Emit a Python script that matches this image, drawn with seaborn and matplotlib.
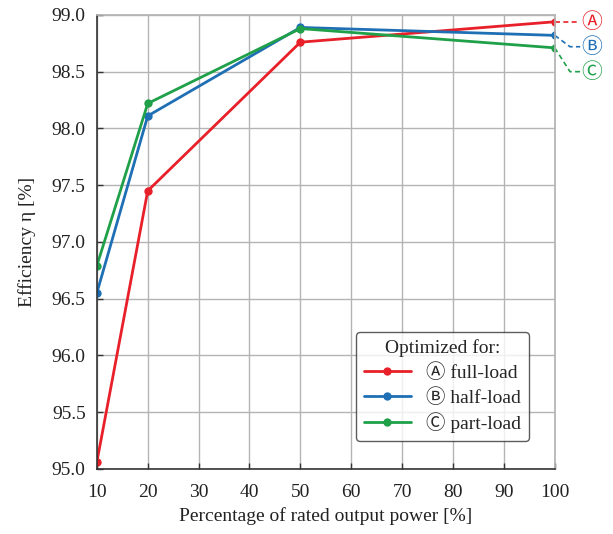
# Efficiency vs. output power for three design optimizations

import pandas as pd
import matplotlib.pyplot as plt
import seaborn as sns

power = [10, 20, 50, 100]
eff_full = [95.06, 97.45, 98.76, 98.94]
eff_half = [96.55, 98.11, 98.89, 98.82]
eff_part = [96.79, 98.22, 98.88, 98.71]
labels = ['\u24b6 full-load', '\u24b7 half-load', '\u24b8 part-load']
tags = ['\u24b6', '\u24b7', '\u24b8']
colors = ['#e8202a', '#1f6fb5', '#1fa049']
yticks = [95.0, 95.5, 96.0, 96.5, 97.0, 97.5, 98.0, 98.5, 99.0]
xticks = [10, 20, 30, 40, 50, 60, 70, 80, 90, 100]

sns.set_theme(style='whitegrid')
plt.rcParams['font.family'] = ['Liberation Serif', 'DejaVu Serif']
plt.rcParams['font.size'] = 13
mixed = ['Liberation Serif', 'Noto Sans CJK JP', 'DejaVu Sans']

df = pd.DataFrame({
    'power': power * 3,
    'eff': eff_full + eff_half + eff_part,
    'design': [labels[0]] * 4 + [labels[1]] * 4 + [labels[2]] * 4,
})

fig = plt.figure(figsize=(6.13, 5.34), dpi=100)
ax = fig.add_axes([0.158, 0.122, 0.747, 0.85])

sns.lineplot(data=df, x='power', y='eff', hue='design', palette=colors,
             marker='o', markersize=6, markeredgewidth=0, linewidth=2, ax=ax)

ax.set_xlim(10, 100)
ax.set_ylim(95.0, 99.0)
ax.set_xticks(xticks)
ax.set_xticklabels([str(v) for v in xticks], fontfamily='Liberation Serif',
                   fontsize=14, color='#222222')
ax.set_yticks(yticks)
ax.set_yticklabels([f'{v:.1f}' for v in yticks], fontfamily='Liberation Serif',
                   fontsize=14, color='#222222')
ax.tick_params(direction='in', length=4, width=1, color='#333333',
               bottom=True, left=True)
ax.tick_params(axis='x', pad=11)
ax.tick_params(axis='y', pad=8)
ax.grid(color='#b4b4b4', linewidth=1)
for s in ax.spines.values():
    s.set_color('#b4b4b4')
ax.spines['left'].set_color('#333333')
ax.spines['bottom'].set_color('#333333')
ax.spines['left'].set_linewidth(1.2)
ax.spines['bottom'].set_linewidth(1.2)
ax.set_xlabel('Percentage of rated output power [%]', fontsize=14,
              color='#222222', labelpad=4)
ax.set_ylabel('Efficiency \u03b7 [%]', fontsize=14, color='#222222', labelpad=11)

# dashed leaders to circled tags on the right
last = [eff_full[-1], eff_half[-1], eff_part[-1]]
tag_y = [98.94, 98.72, 98.50]
for yv, ty, c, t in zip(last, tag_y, colors, tags):
    ax.plot([100, 103, 105], [yv, ty, ty], ls='--', color=c, lw=1.2,
            clip_on=False, dashes=(3, 2))
    ax.text(107.3, ty, t, color=c, fontsize=15, ha='center', va='center',
            family=['Noto Sans CJK JP', 'DejaVu Sans'], clip_on=False)

leg = ax.legend(title='Optimized for:', loc='lower right',
                bbox_to_anchor=(0.965, 0.04), prop={'family': mixed, 'size': 14},
                title_fontproperties={'family': 'Liberation Serif', 'size': 14},
                frameon=True, fancybox=True, edgecolor='#333333',
                handlelength=2.4, borderpad=0.4, labelspacing=0.3)
leg.get_frame().set_linewidth(1)

fig.savefig('out.png', dpi=100)
